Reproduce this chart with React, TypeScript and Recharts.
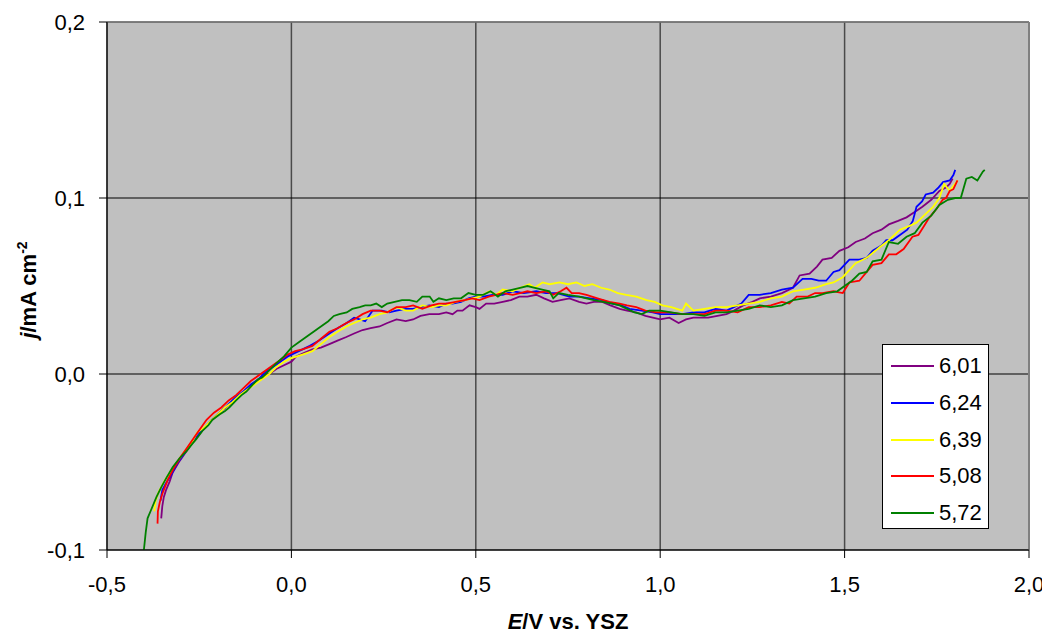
import React from "react";
import { LineChart, Line, XAxis, YAxis, CartesianGrid, ReferenceLine } from "recharts";

// E (V vs. YSZ) , j (mA cm-2)
const xTicks = [-0.5, 0, 0.5, 1, 1.5, 2];
const yTicks = [-0.1, 0, 0.1, 0.2];
const seriesNames = ["6,01", "6,24", "6,39", "5,08", "5,72"];
const seriesColors = ["#800080", "#0000ff", "#ffff00", "#ff0000", "#008000"];

const s601 = [
  [-0.353, -0.082], [-0.35, -0.075], [-0.346, -0.07], [-0.34, -0.066], [-0.33, -0.061], [-0.322, -0.056],
  [-0.305, -0.05], [-0.285, -0.044], [-0.265, -0.038], [-0.245, -0.033], [-0.225, -0.028], [-0.205, -0.024],
  [-0.185, -0.02], [-0.165, -0.017], [-0.141, -0.012], [-0.12, -0.008], [-0.1, -0.005], [-0.08, -0.002],
  [-0.06, 0.0], [-0.04, 0.003], [-0.02, 0.005], [0.0, 0.007], [0.013, 0.01], [0.035, 0.012], [0.057, 0.014],
  [0.08, 0.015], [0.103, 0.017], [0.125, 0.019], [0.149, 0.021], [0.17, 0.023], [0.193, 0.025], [0.215, 0.026],
  [0.239, 0.027], [0.26, 0.029], [0.285, 0.031], [0.31, 0.03], [0.33, 0.031], [0.35, 0.033], [0.374, 0.034],
  [0.4, 0.034], [0.42, 0.035], [0.437, 0.034], [0.45, 0.036], [0.464, 0.036], [0.483, 0.039], [0.5, 0.038],
  [0.51, 0.037], [0.528, 0.04], [0.55, 0.04], [0.573, 0.041], [0.595, 0.042], [0.618, 0.044], [0.64, 0.044],
  [0.664, 0.045], [0.685, 0.043], [0.708, 0.041], [0.73, 0.042], [0.754, 0.043], [0.78, 0.041], [0.8, 0.04],
  [0.82, 0.041], [0.843, 0.041], [0.865, 0.039], [0.89, 0.037], [0.91, 0.036], [0.935, 0.035], [0.96, 0.033],
  [0.98, 0.032], [1.0, 0.031], [1.025, 0.032], [1.05, 0.029], [1.07, 0.031], [1.09, 0.032], [1.11, 0.032],
  [1.13, 0.032], [1.155, 0.033], [1.18, 0.034], [1.2, 0.036], [1.225, 0.039], [1.25, 0.041], [1.27, 0.043],
  [1.3, 0.044], [1.33, 0.046], [1.36, 0.049], [1.378, 0.056], [1.405, 0.057], [1.425, 0.061], [1.44, 0.065],
  [1.465, 0.066], [1.486, 0.07], [1.51, 0.072], [1.53, 0.075], [1.555, 0.077], [1.576, 0.08], [1.6, 0.082],
  [1.62, 0.085], [1.645, 0.087], [1.668, 0.089], [1.69, 0.092], [1.711, 0.095], [1.735, 0.099], [1.757, 0.104],
  [1.775, 0.106], [1.785, 0.108], [1.793, 0.111],
];

const s624 = [
  [-0.355, -0.072], [-0.35, -0.066], [-0.34, -0.062], [-0.325, -0.057], [-0.31, -0.051], [-0.29, -0.045],
  [-0.27, -0.039], [-0.25, -0.034], [-0.23, -0.029], [-0.21, -0.025], [-0.19, -0.021], [-0.17, -0.017],
  [-0.15, -0.013], [-0.13, -0.01], [-0.11, -0.006], [-0.09, -0.003], [-0.07, 0.001], [-0.05, 0.004],
  [-0.03, 0.007], [-0.01, 0.01], [0.01, 0.012], [0.03, 0.014], [0.05, 0.016], [0.075, 0.019], [0.103, 0.023],
  [0.125, 0.026], [0.15, 0.029], [0.17, 0.032], [0.185, 0.031], [0.2, 0.03], [0.21, 0.033], [0.22, 0.036],
  [0.245, 0.036], [0.265, 0.035], [0.285, 0.036], [0.31, 0.037], [0.33, 0.037], [0.35, 0.038], [0.374, 0.039],
  [0.4, 0.038], [0.42, 0.04], [0.437, 0.04], [0.46, 0.041], [0.48, 0.043], [0.5, 0.044], [0.52, 0.044],
  [0.545, 0.045], [0.573, 0.045], [0.6, 0.047], [0.63, 0.046], [0.664, 0.047], [0.69, 0.046], [0.72, 0.046],
  [0.754, 0.044], [0.78, 0.044], [0.81, 0.043], [0.843, 0.042], [0.87, 0.04], [0.895, 0.039], [0.917, 0.037],
  [0.95, 0.036], [0.98, 0.035], [1.0, 0.034], [1.025, 0.034], [1.06, 0.034], [1.09, 0.035], [1.12, 0.035],
  [1.15, 0.037], [1.18, 0.036], [1.2, 0.038], [1.22, 0.04], [1.24, 0.045], [1.27, 0.045], [1.3, 0.046],
  [1.33, 0.048], [1.36, 0.049], [1.386, 0.054], [1.41, 0.054], [1.43, 0.053], [1.45, 0.053], [1.47, 0.058],
  [1.486, 0.059], [1.513, 0.065], [1.54, 0.065], [1.56, 0.066], [1.576, 0.07], [1.6, 0.073], [1.613, 0.076],
  [1.63, 0.076], [1.65, 0.079], [1.67, 0.082], [1.685, 0.087], [1.695, 0.095], [1.71, 0.098], [1.72, 0.102],
  [1.74, 0.103], [1.755, 0.106], [1.767, 0.109], [1.785, 0.11], [1.795, 0.113], [1.8, 0.116],
];

const s639 = [
  [-0.372, -0.078], [-0.368, -0.072], [-0.36, -0.067], [-0.345, -0.061], [-0.33, -0.056], [-0.31, -0.05],
  [-0.29, -0.044], [-0.27, -0.039], [-0.255, -0.033], [-0.24, -0.031], [-0.22, -0.027], [-0.2, -0.023],
  [-0.18, -0.019], [-0.16, -0.016], [-0.14, -0.012], [-0.12, -0.009], [-0.1, -0.006], [-0.08, -0.003],
  [-0.06, 0.0], [-0.04, 0.004], [-0.02, 0.007], [0.0, 0.009], [0.03, 0.011], [0.057, 0.013], [0.08, 0.017],
  [0.103, 0.021], [0.125, 0.024], [0.149, 0.027], [0.17, 0.029], [0.193, 0.031], [0.215, 0.032], [0.239, 0.034],
  [0.26, 0.035], [0.285, 0.038], [0.31, 0.036], [0.33, 0.036], [0.355, 0.039], [0.38, 0.038], [0.4, 0.039],
  [0.42, 0.039], [0.445, 0.041], [0.47, 0.042], [0.49, 0.043], [0.51, 0.044], [0.537, 0.047], [0.555, 0.045],
  [0.573, 0.048], [0.6, 0.047], [0.62, 0.049], [0.645, 0.051], [0.66, 0.049], [0.681, 0.052], [0.7, 0.051],
  [0.727, 0.052], [0.75, 0.051], [0.773, 0.052], [0.795, 0.05], [0.816, 0.051], [0.84, 0.049], [0.862, 0.048],
  [0.885, 0.046], [0.908, 0.045], [0.935, 0.044], [0.963, 0.042], [0.985, 0.041], [1.006, 0.039], [1.03, 0.038],
  [1.06, 0.036], [1.07, 0.04], [1.09, 0.036], [1.12, 0.037], [1.15, 0.038], [1.18, 0.038], [1.21, 0.039],
  [1.24, 0.04], [1.27, 0.041], [1.3, 0.043], [1.33, 0.044], [1.36, 0.047], [1.39, 0.048], [1.42, 0.049],
  [1.45, 0.051], [1.47, 0.052], [1.495, 0.055], [1.53, 0.063], [1.56, 0.066], [1.595, 0.072], [1.62, 0.076],
  [1.65, 0.082], [1.675, 0.084], [1.695, 0.086], [1.72, 0.091], [1.74, 0.095], [1.757, 0.1], [1.77, 0.108],
  [1.785, 0.104], [1.795, 0.107], [1.807, 0.11],
];

const s508 = [
  [-0.363, -0.085], [-0.362, -0.078], [-0.357, -0.073], [-0.35, -0.068], [-0.335, -0.06], [-0.32, -0.054],
  [-0.3, -0.047], [-0.28, -0.041], [-0.26, -0.035], [-0.24, -0.029], [-0.23, -0.026], [-0.21, -0.022],
  [-0.19, -0.019], [-0.17, -0.015], [-0.15, -0.012], [-0.13, -0.008], [-0.11, -0.004], [-0.09, -0.001],
  [-0.07, 0.002], [-0.05, 0.005], [-0.03, 0.008], [-0.01, 0.011], [0.01, 0.013], [0.03, 0.014], [0.057, 0.016],
  [0.08, 0.02], [0.103, 0.024], [0.125, 0.026], [0.149, 0.029], [0.17, 0.031], [0.193, 0.034], [0.215, 0.036],
  [0.239, 0.036], [0.26, 0.035], [0.285, 0.038], [0.31, 0.038], [0.33, 0.039], [0.355, 0.037], [0.38, 0.039],
  [0.4, 0.04], [0.42, 0.04], [0.445, 0.041], [0.47, 0.042], [0.49, 0.043], [0.51, 0.042], [0.535, 0.044],
  [0.555, 0.045], [0.573, 0.046], [0.6, 0.045], [0.62, 0.046], [0.64, 0.047], [0.664, 0.046], [0.69, 0.047],
  [0.71, 0.045], [0.73, 0.047], [0.746, 0.049], [0.76, 0.046], [0.78, 0.046], [0.8, 0.045], [0.83, 0.043],
  [0.862, 0.041], [0.89, 0.04], [0.91, 0.039], [0.935, 0.038], [0.96, 0.036], [0.99, 0.035], [1.025, 0.035],
  [1.06, 0.034], [1.09, 0.034], [1.12, 0.034], [1.15, 0.036], [1.18, 0.036], [1.21, 0.035], [1.24, 0.038],
  [1.27, 0.038], [1.3, 0.039], [1.33, 0.041], [1.35, 0.04], [1.37, 0.044], [1.4, 0.044], [1.42, 0.046],
  [1.44, 0.046], [1.47, 0.047], [1.495, 0.046], [1.513, 0.052], [1.54, 0.053], [1.56, 0.058], [1.576, 0.062],
  [1.6, 0.063], [1.62, 0.068], [1.64, 0.068], [1.66, 0.071], [1.684, 0.078], [1.7, 0.079], [1.715, 0.084],
  [1.73, 0.089], [1.75, 0.094], [1.766, 0.099], [1.775, 0.1], [1.785, 0.104], [1.795, 0.105], [1.806, 0.11],
];

const s572 = [
  [-0.4, -0.1], [-0.395, -0.09], [-0.39, -0.082], [-0.38, -0.077], [-0.366, -0.07], [-0.352, -0.064],
  [-0.339, -0.059], [-0.322, -0.053], [-0.304, -0.048], [-0.285, -0.044], [-0.27, -0.04], [-0.258, -0.037],
  [-0.24, -0.032], [-0.225, -0.029], [-0.214, -0.026], [-0.195, -0.023], [-0.18, -0.021], [-0.168, -0.019],
  [-0.15, -0.015], [-0.135, -0.012], [-0.122, -0.01], [-0.105, -0.006], [-0.09, -0.003], [-0.079, -0.002],
  [-0.06, 0.002], [-0.041, 0.006], [-0.02, 0.01], [0.0, 0.015], [0.02, 0.018], [0.04, 0.021], [0.06, 0.024],
  [0.08, 0.027], [0.1, 0.03], [0.115, 0.033], [0.13, 0.034], [0.15, 0.035], [0.165, 0.037], [0.185, 0.038],
  [0.2, 0.039], [0.215, 0.039], [0.23, 0.04], [0.245, 0.038], [0.26, 0.04], [0.28, 0.041], [0.3, 0.042],
  [0.32, 0.042], [0.34, 0.041], [0.355, 0.044], [0.375, 0.044], [0.385, 0.041], [0.4, 0.043], [0.42, 0.042],
  [0.44, 0.043], [0.46, 0.043], [0.48, 0.046], [0.5, 0.045], [0.52, 0.045], [0.54, 0.047], [0.56, 0.044],
  [0.58, 0.047], [0.6, 0.048], [0.62, 0.049], [0.64, 0.05], [0.66, 0.049], [0.68, 0.048], [0.7, 0.047],
  [0.71, 0.043], [0.725, 0.046], [0.75, 0.045], [0.78, 0.044], [0.8, 0.043], [0.82, 0.042], [0.845, 0.041],
  [0.87, 0.04], [0.89, 0.039], [0.91, 0.037], [0.93, 0.035], [0.95, 0.034], [0.97, 0.036], [1.0, 0.036],
  [1.03, 0.035], [1.06, 0.034], [1.09, 0.034], [1.12, 0.033], [1.15, 0.035], [1.18, 0.035], [1.21, 0.036],
  [1.24, 0.037], [1.27, 0.039], [1.3, 0.038], [1.33, 0.039], [1.36, 0.042], [1.39, 0.043], [1.42, 0.044],
  [1.45, 0.046], [1.48, 0.047], [1.5, 0.05], [1.52, 0.053], [1.54, 0.057], [1.56, 0.058], [1.576, 0.064],
  [1.6, 0.065], [1.62, 0.075], [1.645, 0.074], [1.668, 0.078], [1.69, 0.08], [1.711, 0.086], [1.735, 0.09],
  [1.757, 0.096], [1.78, 0.099], [1.8, 0.1], [1.815, 0.1], [1.83, 0.111], [1.845, 0.112], [1.86, 0.11],
  [1.875, 0.115], [1.88, 0.116],
];

const seriesData = [s601, s624, s639, s508, s572];

const toPoints = (arr: number[][]) => arr.map(([E, j]) => ({ E, j }));
const fmt = (v: number) => v.toFixed(1).replace(".", ",");

const FONT = "'Liberation Sans', Arial, sans-serif";
const tickStyle = { fontFamily: FONT, fontSize: 22, fill: "#000" };

export default function App() {
  return (
    <div style={{ position: "relative", width: 1042, height: 625, fontFamily: FONT }}>
      <LineChart width={1042} height={625} margin={{ top: 14, right: 21, left: 0, bottom: 0 }}>
        <CartesianGrid fill="#c0c0c0" horizontal={false} stroke="#4a4a4a" strokeWidth={1.5} />
        <CartesianGrid vertical={false} stroke="#000" strokeWidth={1} />
        <XAxis
          type="number"
          dataKey="E"
          domain={[-0.5, 2]}
          ticks={xTicks}
          tickFormatter={fmt}
          allowDataOverflow
          stroke="#000"
          tickSize={8}
          tickMargin={18}
          height={83}
          tick={tickStyle}
          interval={0}
        />
        <YAxis
          type="number"
          domain={[-0.1, 0.2]}
          ticks={yTicks}
          tickFormatter={fmt}
          allowDataOverflow
          stroke="#000"
          tickSize={8}
          tickMargin={14}
          width={99}
          tick={tickStyle}
          interval={0}
        />
        <ReferenceLine y={0.2} stroke="#808080" strokeWidth={1.5} />
        <ReferenceLine x={2} stroke="#808080" strokeWidth={2} />
        {seriesData.map((s, i) => (
          <Line
            key={seriesNames[i]}
            data={toPoints(s)}
            dataKey="j"
            name={seriesNames[i]}
            type="linear"
            dot={false}
            stroke={seriesColors[i]}
            strokeWidth={1.8}
            isAnimationActive={false}
          />
        ))}
      </LineChart>

      <div
        style={{
          position: "absolute",
          left: 874,
          top: 336,
          width: 105,
          height: 183,
          background: "#fff",
          border: "1px solid #000",
        }}
      >
        {seriesNames.map((n, i) => (
          <div
            key={n}
            style={{ position: "absolute", left: 8, top: 21 + i * 36.8 - 13, height: 26, display: "flex", alignItems: "center" }}
          >
            <span style={{ width: 43, height: 2, background: seriesColors[i], display: "inline-block" }} />
            <span style={{ marginLeft: 5, fontSize: 22, color: "#000", lineHeight: "26px" }}>{n}</span>
          </div>
        ))}
      </div>

      <div
        style={{
          position: "absolute",
          left: 20,
          top: 282,
          transform: "translate(-50%, -50%) rotate(-90deg)",
          whiteSpace: "nowrap",
          fontWeight: "bold",
          fontSize: 22,
        }}
      >
        <i>j</i>/mA cm<sup style={{ fontSize: 14 }}>-2</sup>
      </div>
      <div
        style={{
          position: "absolute",
          left: 560,
          top: 614,
          transform: "translate(-50%, -50%)",
          whiteSpace: "nowrap",
          fontWeight: "bold",
          fontSize: 22,
        }}
      >
        <i>E</i>/V vs. YSZ
      </div>
    </div>
  );
}
